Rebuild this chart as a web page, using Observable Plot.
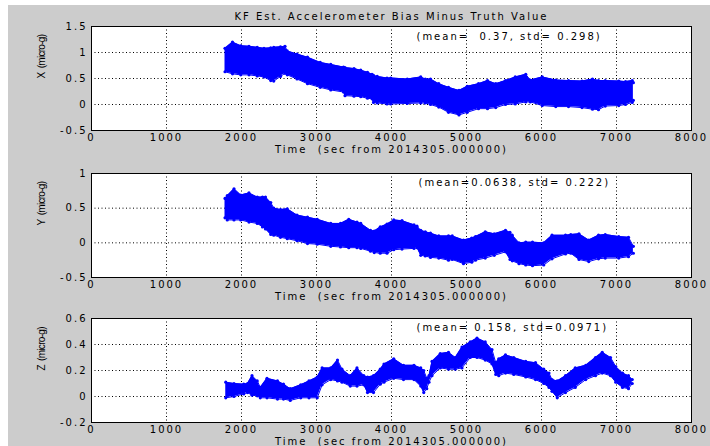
<!DOCTYPE html>
<html>
<head>
<meta charset="utf-8">
<script src="https://cdn.jsdelivr.net/npm/d3@7"></script>
<script src="https://cdn.jsdelivr.net/npm/@observablehq/plot@0.6"></script>
<style>
  html, body { margin: 0; padding: 0; background: #ffffff; width: 710px; height: 446px; overflow: hidden; }
  #bg { position: absolute; left: 8px; top: 5px; width: 702px; height: 441px; background: #cccccc; }
  .panel { position: absolute; left: 0px; }
  .panel svg { overflow: visible; }
</style>
</head>
<body>
<div id="bg"></div>
<div id="p1" class="panel" style="top:0px"></div>
<div id="p2" class="panel" style="top:147px"></div>
<div id="p3" class="panel" style="top:292px"></div>
<script>
// ---- data (envelope of the dense KF scatter) ----
const xTicks = [0, 1000, 2000, 3000, 4000, 5000, 6000, 7000, 8000];
const titleText = "KF Est. Accelerometer Bias Minus Truth Value";
const xLabel = "Time\u00a0 (sec from 2014305.000000)";

// Panel X
const xT  = [1780,1880,1990,2100,2210,2300,2390,2430,2520,2580,2610,2740,2880,3050,3190,3360,3380,3500,3590,3680,3740,3760,3810,3940,3990,4210,4390,4450,4520,4630,4760,4900,5010,5160,5280,5390,5520,5650,5790,5850,6010,6190,6360,6540,6680,6760,6850,7030,7120,7210,7225];
const xHi = [1.08,1.20,1.13,1.12,1.10,1.08,1.09,1.10,1.11,1.12,1.03,0.97,0.91,0.81,0.77,0.72,0.71,0.69,0.66,0.62,0.58,0.56,0.54,0.51,0.51,0.49,0.53,0.49,0.49,0.40,0.33,0.27,0.35,0.40,0.46,0.40,0.46,0.53,0.58,0.47,0.53,0.47,0.46,0.45,0.49,0.46,0.46,0.45,0.44,0.46,0.42];
const xLo = [0.63,0.59,0.57,0.57,0.55,0.53,0.46,0.45,0.54,0.60,0.57,0.49,0.40,0.33,0.28,0.24,0.17,0.16,0.15,0.12,0.11,0.04,0.03,0.01,0.01,0.02,0.03,0.03,0.00,-0.05,-0.15,-0.20,-0.15,-0.08,-0.08,-0.06,0.00,0.01,0.05,0.05,-0.02,-0.04,-0.04,-0.06,-0.09,-0.10,-0.03,-0.02,0.00,0.04,0.08];

// Panel Y
const yT  = [1780,1810,1900,1990,2100,2210,2280,2320,2390,2430,2520,2610,2740,2880,3010,3190,3320,3430,3540,3590,3720,3770,3850,3940,4030,4140,4300,4340,4390,4450,4520,4630,4760,4810,4960,5070,5120,5250,5370,5520,5580,5610,5700,5790,5880,6030,6140,6320,6390,6500,6630,6760,6850,7030,7160,7225];
const yHi = [0.64,0.68,0.78,0.69,0.72,0.66,0.66,0.66,0.58,0.50,0.48,0.49,0.40,0.37,0.34,0.28,0.28,0.34,0.30,0.28,0.18,0.17,0.23,0.27,0.33,0.32,0.26,0.24,0.18,0.16,0.14,0.10,0.10,0.10,0.04,0.07,0.09,0.16,0.13,0.18,0.15,0.11,0.00,0.01,0.01,0.00,0.11,0.11,0.12,0.13,0.04,0.11,0.12,0.09,0.08,-0.05];
const yLo = [0.36,0.33,0.33,0.33,0.30,0.28,0.23,0.20,0.12,0.11,0.08,0.06,0.03,-0.01,-0.02,-0.05,-0.06,-0.07,-0.07,-0.08,-0.12,-0.14,-0.15,-0.15,-0.10,-0.09,-0.08,-0.07,-0.18,-0.19,-0.21,-0.22,-0.25,-0.24,-0.30,-0.28,-0.25,-0.22,-0.18,-0.13,-0.24,-0.26,-0.30,-0.32,-0.33,-0.32,-0.23,-0.16,-0.15,-0.24,-0.27,-0.23,-0.22,-0.22,-0.20,-0.15];

// Panel Z
const zT  = [1790,1900,2030,2080,2140,2210,2250,2340,2480,2560,2650,2790,2900,3010,3075,3190,3280,3340,3450,3540,3630,3680,3760,3850,3900,4030,4160,4300,4390,4430,4470,4500,4540,4650,4760,4850,4940,5050,5140,5250,5340,5390,5430,5520,5630,5790,5920,6030,6100,6140,6210,6320,6450,6590,6720,6810,6920,6990,7080,7160,7210];
const zHi = [0.11,0.10,0.095,0.10,0.16,0.12,0.07,0.14,0.12,0.095,0.06,0.09,0.12,0.15,0.22,0.22,0.28,0.21,0.16,0.22,0.16,0.15,0.16,0.21,0.25,0.29,0.24,0.24,0.22,0.20,0.14,0.16,0.27,0.33,0.34,0.30,0.38,0.42,0.45,0.42,0.36,0.26,0.29,0.32,0.30,0.27,0.26,0.21,0.18,0.13,0.12,0.16,0.22,0.24,0.30,0.34,0.30,0.23,0.18,0.16,0.13];
const zLo = [-0.01,0.00,0.02,0.03,0.01,0.005,-0.01,-0.01,-0.02,-0.02,-0.03,-0.01,-0.01,-0.01,0.09,0.13,0.12,0.11,0.08,0.08,0.09,0.03,0.03,0.095,0.11,0.14,0.13,0.13,0.08,0.03,0.06,0.11,0.16,0.22,0.21,0.21,0.22,0.30,0.30,0.28,0.25,0.17,0.16,0.18,0.17,0.15,0.13,0.10,0.07,0.04,-0.01,0.03,0.07,0.13,0.16,0.18,0.16,0.11,0.07,0.06,0.10];

const panels = [
  { el: "#p1", t: xT, hi: xHi, lo: xLo, domain: [-0.5, 1.5], ticks: [-0.5, 0, 0.5, 1, 1.5],
    ylabel: "X\u00a0 (micro-g)", note: "(mean=\u00a0 0.37, std= 0.298)", noteX: 4333, noteY: 1.31, title: true },
  { el: "#p2", t: yT, hi: yHi, lo: yLo, domain: [-0.5, 1], ticks: [-0.5, 0, 0.5, 1],
    ylabel: "Y\u00a0 (micro-g)", note: "(mean=0.0638, std= 0.222)", noteX: 4360, noteY: 0.86, title: false },
  { el: "#p3", t: zT, hi: zHi, lo: zLo, domain: [-0.2, 0.6], ticks: [-0.2, 0, 0.2, 0.4, 0.6],
    ylabel: "Z\u00a0 (micro-g)", note: "(mean= 0.158, std=0.0971)", noteX: 4333, noteY: 0.526, title: false }
];

const blue = "#0000ff";

for (const p of panels) {
  const rows = p.t.map((t, i) => ({ t, hi: p.hi[i], lo: p.lo[i] }));
  const marks = [
    Plot.frame({ fill: "white", stroke: "none" }),
    Plot.gridX(xTicks, { stroke: "black", strokeOpacity: 1, strokeDasharray: "1,2.5" }),
    Plot.gridY(p.ticks, { stroke: "black", strokeOpacity: 1, strokeDasharray: "1,2.5" }),
    Plot.areaY(rows, { x: "t", y1: "lo", y2: "hi", fill: blue }),
    Plot.line(rows, { x: "t", y: "hi", stroke: blue, strokeWidth: 1 }),
    Plot.line(rows, { x: "t", y: "lo", stroke: blue, strokeWidth: 1 }),
    Plot.dot(rows, { x: "t", y: "hi", r: 1.6, fill: blue, stroke: "none" }),
    Plot.dot(rows, { x: "t", y: "lo", r: 1.6, fill: blue, stroke: "none" }),
    Plot.frame({ stroke: "black", strokeWidth: 1 }),
    Plot.text([p.note], { x: () => p.noteX, y: () => p.noteY, text: d => d, textAnchor: "start", lineAnchor: "middle", fill: "black" }),
    Plot.text([xLabel], { frameAnchor: "bottom", dy: 19, lineAnchor: "middle", text: d => d, fill: "black" }),
    Plot.text([p.ylabel], { frameAnchor: "left", dx: -50, rotate: -90, lineAnchor: "middle", text: d => d, fill: "black" })
  ];
  if (p.title) marks.push(Plot.text([titleText], { frameAnchor: "top", dy: -10, lineAnchor: "middle", text: d => d, fill: "black" }));

  const chart = Plot.plot({
    width: 710,
    height: 160,
    marginLeft: 91,
    marginRight: 19,
    marginTop: 26,
    marginBottom: 30,
    style: { background: "transparent", fontFamily: "DejaVu Sans", fontSize: "10px", letterSpacing: "2px", color: "black", overflow: "visible" },
    x: { domain: [0, 8000], ticks: xTicks, tickFormat: d => String(d), tickSize: 0, tickPadding: 3, label: null },
    y: { domain: p.domain, ticks: p.ticks, tickFormat: d => String(d), tickSize: 0, tickPadding: 4, label: null },
    marks
  });
  document.querySelector(p.el).appendChild(chart);
  d3.select(chart).selectAll("text")
    .filter(function () { return this.textContent.includes("micro"); })
    .style("font-family", "Liberation Sans")
    .style("font-size", "10px")
    .style("letter-spacing", "-0.7px");
}
</script>
</body>
</html>
